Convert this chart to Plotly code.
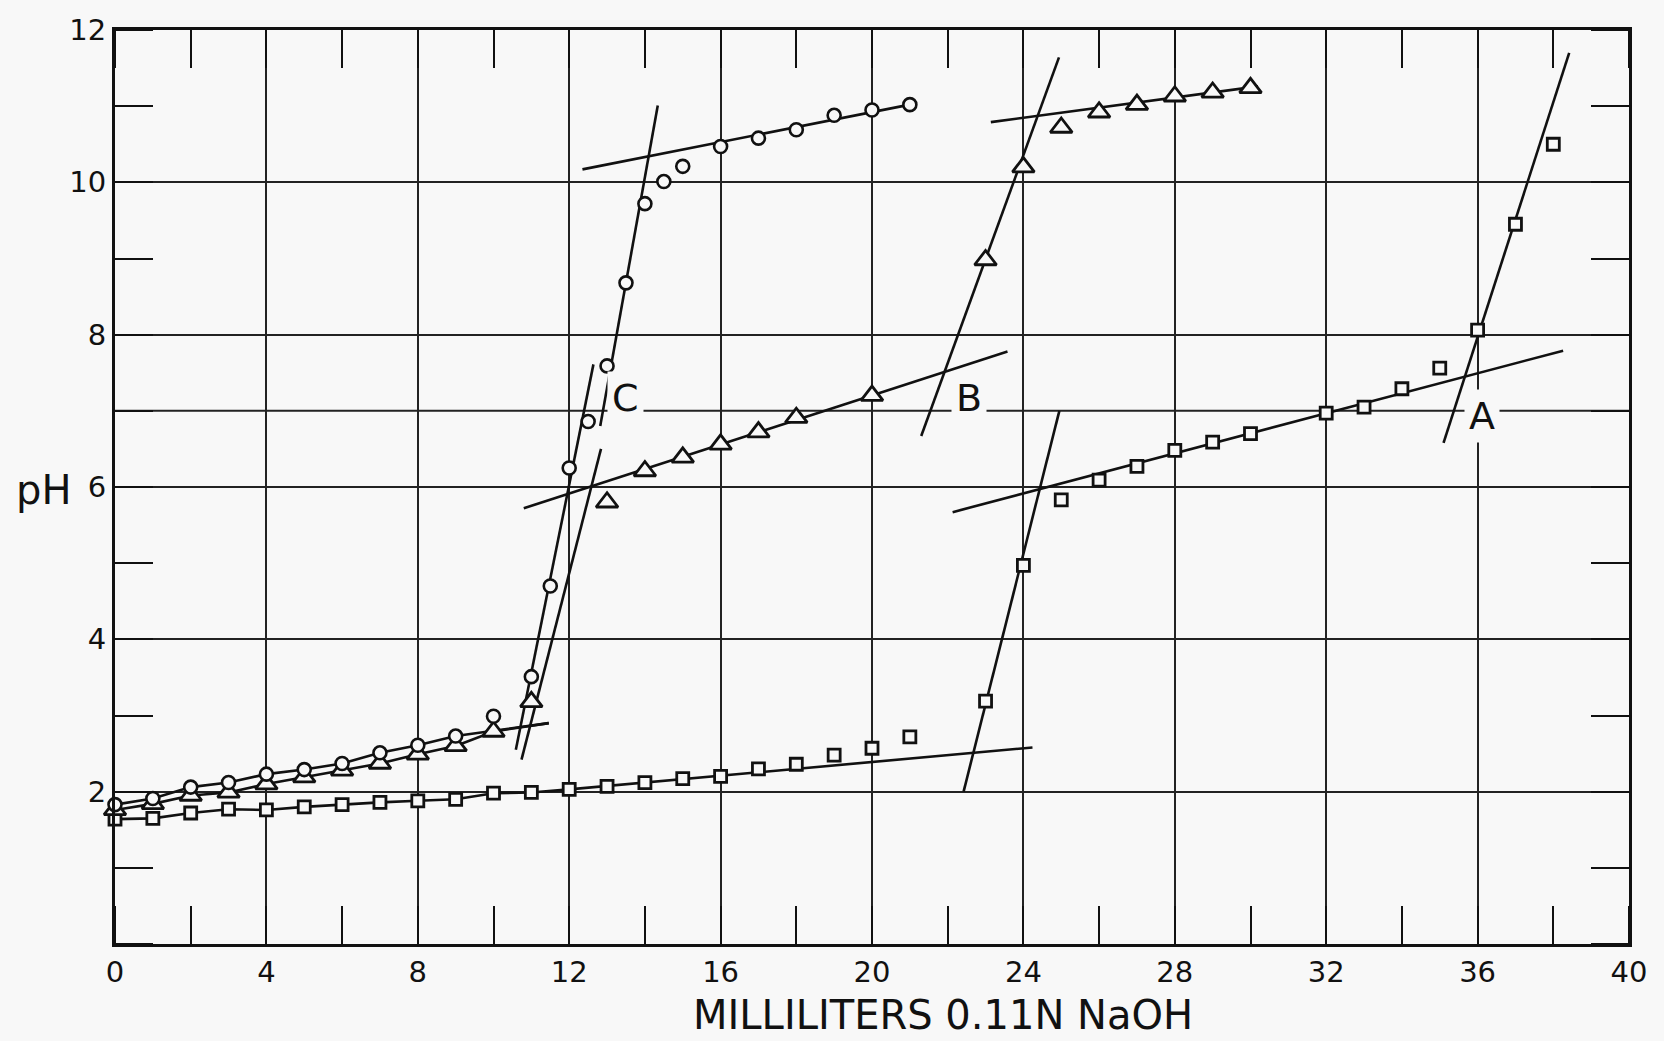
import plotly.graph_objects as go

# ---------------- data ----------------
# Curve C (open circles)
C_ml = [0, 1, 2, 3, 4, 5, 6, 7, 8, 9, 10, 11, 11.5, 12, 12.5, 13, 13.5, 14, 14.5, 15,
        16, 17, 18, 19, 20, 21]
C_ph = [1.83, 1.91, 2.06, 2.12, 2.23, 2.29, 2.37, 2.51, 2.61, 2.73, 2.99, 3.51, 4.70, 6.25,
        6.86, 7.59, 8.68, 9.72, 10.01, 10.21, 10.47, 10.58, 10.69, 10.88, 10.95, 11.02]

# Curve B (open triangles)
B_ml = [0, 1, 2, 3, 4, 5, 6, 7, 8, 9, 10, 11, 13, 14, 15, 16, 17, 18, 20,
        23, 24, 25, 26, 27, 28, 29, 30]
B_ph = [1.76, 1.84, 1.95, 1.99, 2.10, 2.19, 2.28, 2.37, 2.49, 2.60, 2.79, 3.18, 5.80, 6.21,
        6.39, 6.56, 6.72, 6.91, 7.20, 8.98, 10.20, 10.72, 10.92, 11.02, 11.13, 11.18, 11.24]

# Curve A (open squares)
A_ml = [0, 1, 2, 3, 4, 5, 6, 7, 8, 9, 10, 11, 12, 13, 14, 15, 16, 17, 18, 19, 20, 21,
        23, 24, 25, 26, 27, 28, 29, 30, 32, 33, 34, 35, 36, 37, 38]
A_ph = [1.64, 1.65, 1.72, 1.77, 1.76, 1.80, 1.83, 1.86, 1.88, 1.90, 1.98, 1.99, 2.03, 2.07,
        2.12, 2.17, 2.20, 2.30, 2.36, 2.48, 2.57, 2.72, 3.19, 4.97, 5.83, 6.09, 6.27, 6.48,
        6.59, 6.70, 6.97, 7.05, 7.29, 7.56, 8.06, 9.45, 10.50]

# hand-drawn curves / tangent lines (ml, pH)
C_low_end_ml, C_low_end_ph = [11.46], [2.90]          # end of low C curve (after circles 0-9)
B_low_end_ml, B_low_end_ph = [11.46], [2.90]          # end of low B curve (after triangles 0-10)
A_low_end_ml, A_low_end_ph = [24.24], [2.58]          # end of low A curve (after squares 0-12)

fit_C_rise_ml, fit_C_rise_ph = [10.59, 12.64], [2.55, 7.61]
fit_C_steep_ml, fit_C_steep_ph = [12.82, 14.34], [6.80, 11.01]
fit_C_top_ml, fit_C_top_ph = [12.35, 21.00], [10.17, 11.02]
fit_B_rise_ml, fit_B_rise_ph = [10.74, 12.84], [2.42, 6.50]
fit_B_mid_ml, fit_B_mid_ph = [10.80, 23.58], [5.72, 7.78]
fit_B_steep_ml, fit_B_steep_ph = [21.30, 24.94], [6.67, 11.64]
fit_B_top_ml, fit_B_top_ph = [23.14, 30.20], [10.79, 11.26]
fit_A_steep1_ml, fit_A_steep1_ph = [22.42, 24.95], [2.00, 7.00]
fit_A_mid_ml, fit_A_mid_ph = [22.13, 38.26], [5.67, 7.79]
fit_A_steep2_ml, fit_A_steep2_ph = [35.10, 38.42], [6.58, 11.70]

curve_labels = ["C", "B", "A"]
label_ml = [13.5, 22.55, 36.12]
label_ph = [7.17, 7.17, 6.93]

x_ticks = [0, 4, 8, 12, 16, 20, 24, 28, 32, 36, 40]
y_ticks = [2, 4, 6, 8, 10, 12]
neutral_ph = 7

# ---------------- styling ----------------
BG = "#f8f8f8"
INK = "#111111"
FONT = "DejaVu Sans"

fig = go.Figure()

def add_line(xs, ys, w=2.6):
    fig.add_trace(go.Scatter(x=xs, y=ys, mode="lines",
                             line=dict(color=INK, width=w),
                             hoverinfo="skip", showlegend=False, cliponaxis=False))

# low smooth curves through the points
add_line(C_ml[:10] + C_low_end_ml, C_ph[:10] + C_low_end_ph)
add_line(B_ml[:11] + B_low_end_ml, B_ph[:11] + B_low_end_ph)
add_line(A_ml[:13] + A_low_end_ml, A_ph[:13] + A_low_end_ph)

for xs, ys in [(fit_C_rise_ml, fit_C_rise_ph), (fit_C_steep_ml, fit_C_steep_ph),
               (fit_C_top_ml, fit_C_top_ph), (fit_B_rise_ml, fit_B_rise_ph),
               (fit_B_mid_ml, fit_B_mid_ph), (fit_B_steep_ml, fit_B_steep_ph),
               (fit_B_top_ml, fit_B_top_ph), (fit_A_steep1_ml, fit_A_steep1_ph),
               (fit_A_mid_ml, fit_A_mid_ph), (fit_A_steep2_ml, fit_A_steep2_ph)]:
    add_line(xs, ys)

# markers
fig.add_trace(go.Scatter(x=A_ml, y=A_ph, mode="markers", name="A",
                         marker=dict(symbol="square", size=12, color=BG,
                                     line=dict(color=INK, width=2.8)),
                         showlegend=False, cliponaxis=False))
fig.add_trace(go.Scatter(x=B_ml, y=B_ph, mode="markers", name="B",
                         marker=dict(symbol="triangle-up", size=19, color=BG,
                                     line=dict(color=INK, width=2.8)),
                         showlegend=False, cliponaxis=False))
fig.add_trace(go.Scatter(x=C_ml, y=C_ph, mode="markers", name="C",
                         marker=dict(symbol="circle", size=13, color=BG,
                                     line=dict(color=INK, width=2.6)),
                         showlegend=False, cliponaxis=False))

# neutral pH reference line
fig.add_hline(y=neutral_ph, line=dict(color="#222222", width=2), layer="below")

# curve labels
for t, xv, yv in zip(curve_labels, label_ml, label_ph):
    fig.add_annotation(x=xv, y=yv, text=t, showarrow=False,
                       font=dict(family=FONT, size=38, color=INK),
                       bgcolor=BG, borderpad=4)

# axis titles as annotations
fig.add_annotation(xref="paper", yref="paper", x=0.547, y=0, yanchor="middle",
                   yshift=-71, text="MILLILITERS 0.11N NaOH", showarrow=False,
                   font=dict(family=FONT, size=40, color=INK))
fig.add_annotation(xref="paper", yref="y", x=0, y=6, xanchor="right", yanchor="middle",
                   xshift=-42, yshift=-3, text="pH", showarrow=False,
                   font=dict(family=FONT, size=40, color=INK))

axis_common = dict(showline=True, linewidth=3, linecolor=INK, mirror="ticks",
                   showgrid=True, gridcolor="#222222", gridwidth=2,
                   zeroline=False, ticks="",
                   tickfont=dict(family=FONT, size=29, color=INK))

fig.update_xaxes(range=[0, 40], tickmode="array", tickvals=x_ticks,
                 ticklabelstandoff=0,
                 minor=dict(dtick=2, tick0=0, ticks="inside", ticklen=38,
                            tickwidth=2, tickcolor=INK, showgrid=False),
                 **axis_common)
fig.update_yaxes(range=[0, 12], tickmode="array", tickvals=y_ticks,
                 ticklabelstandoff=0,
                 minor=dict(dtick=1, tick0=0, ticks="inside", ticklen=38,
                            tickwidth=2, tickcolor=INK, showgrid=False),
                 **axis_common)

fig.update_layout(width=1664, height=1041,
                  margin=dict(l=115, r=35, t=30, b=97),
                  paper_bgcolor=BG, plot_bgcolor=BG,
                  font=dict(family=FONT, color=INK))

fig.write_html("out.html", config={"displayModeBar": False},
               post_script="document.body.style.margin='0';document.body.style.overflow='hidden';")
